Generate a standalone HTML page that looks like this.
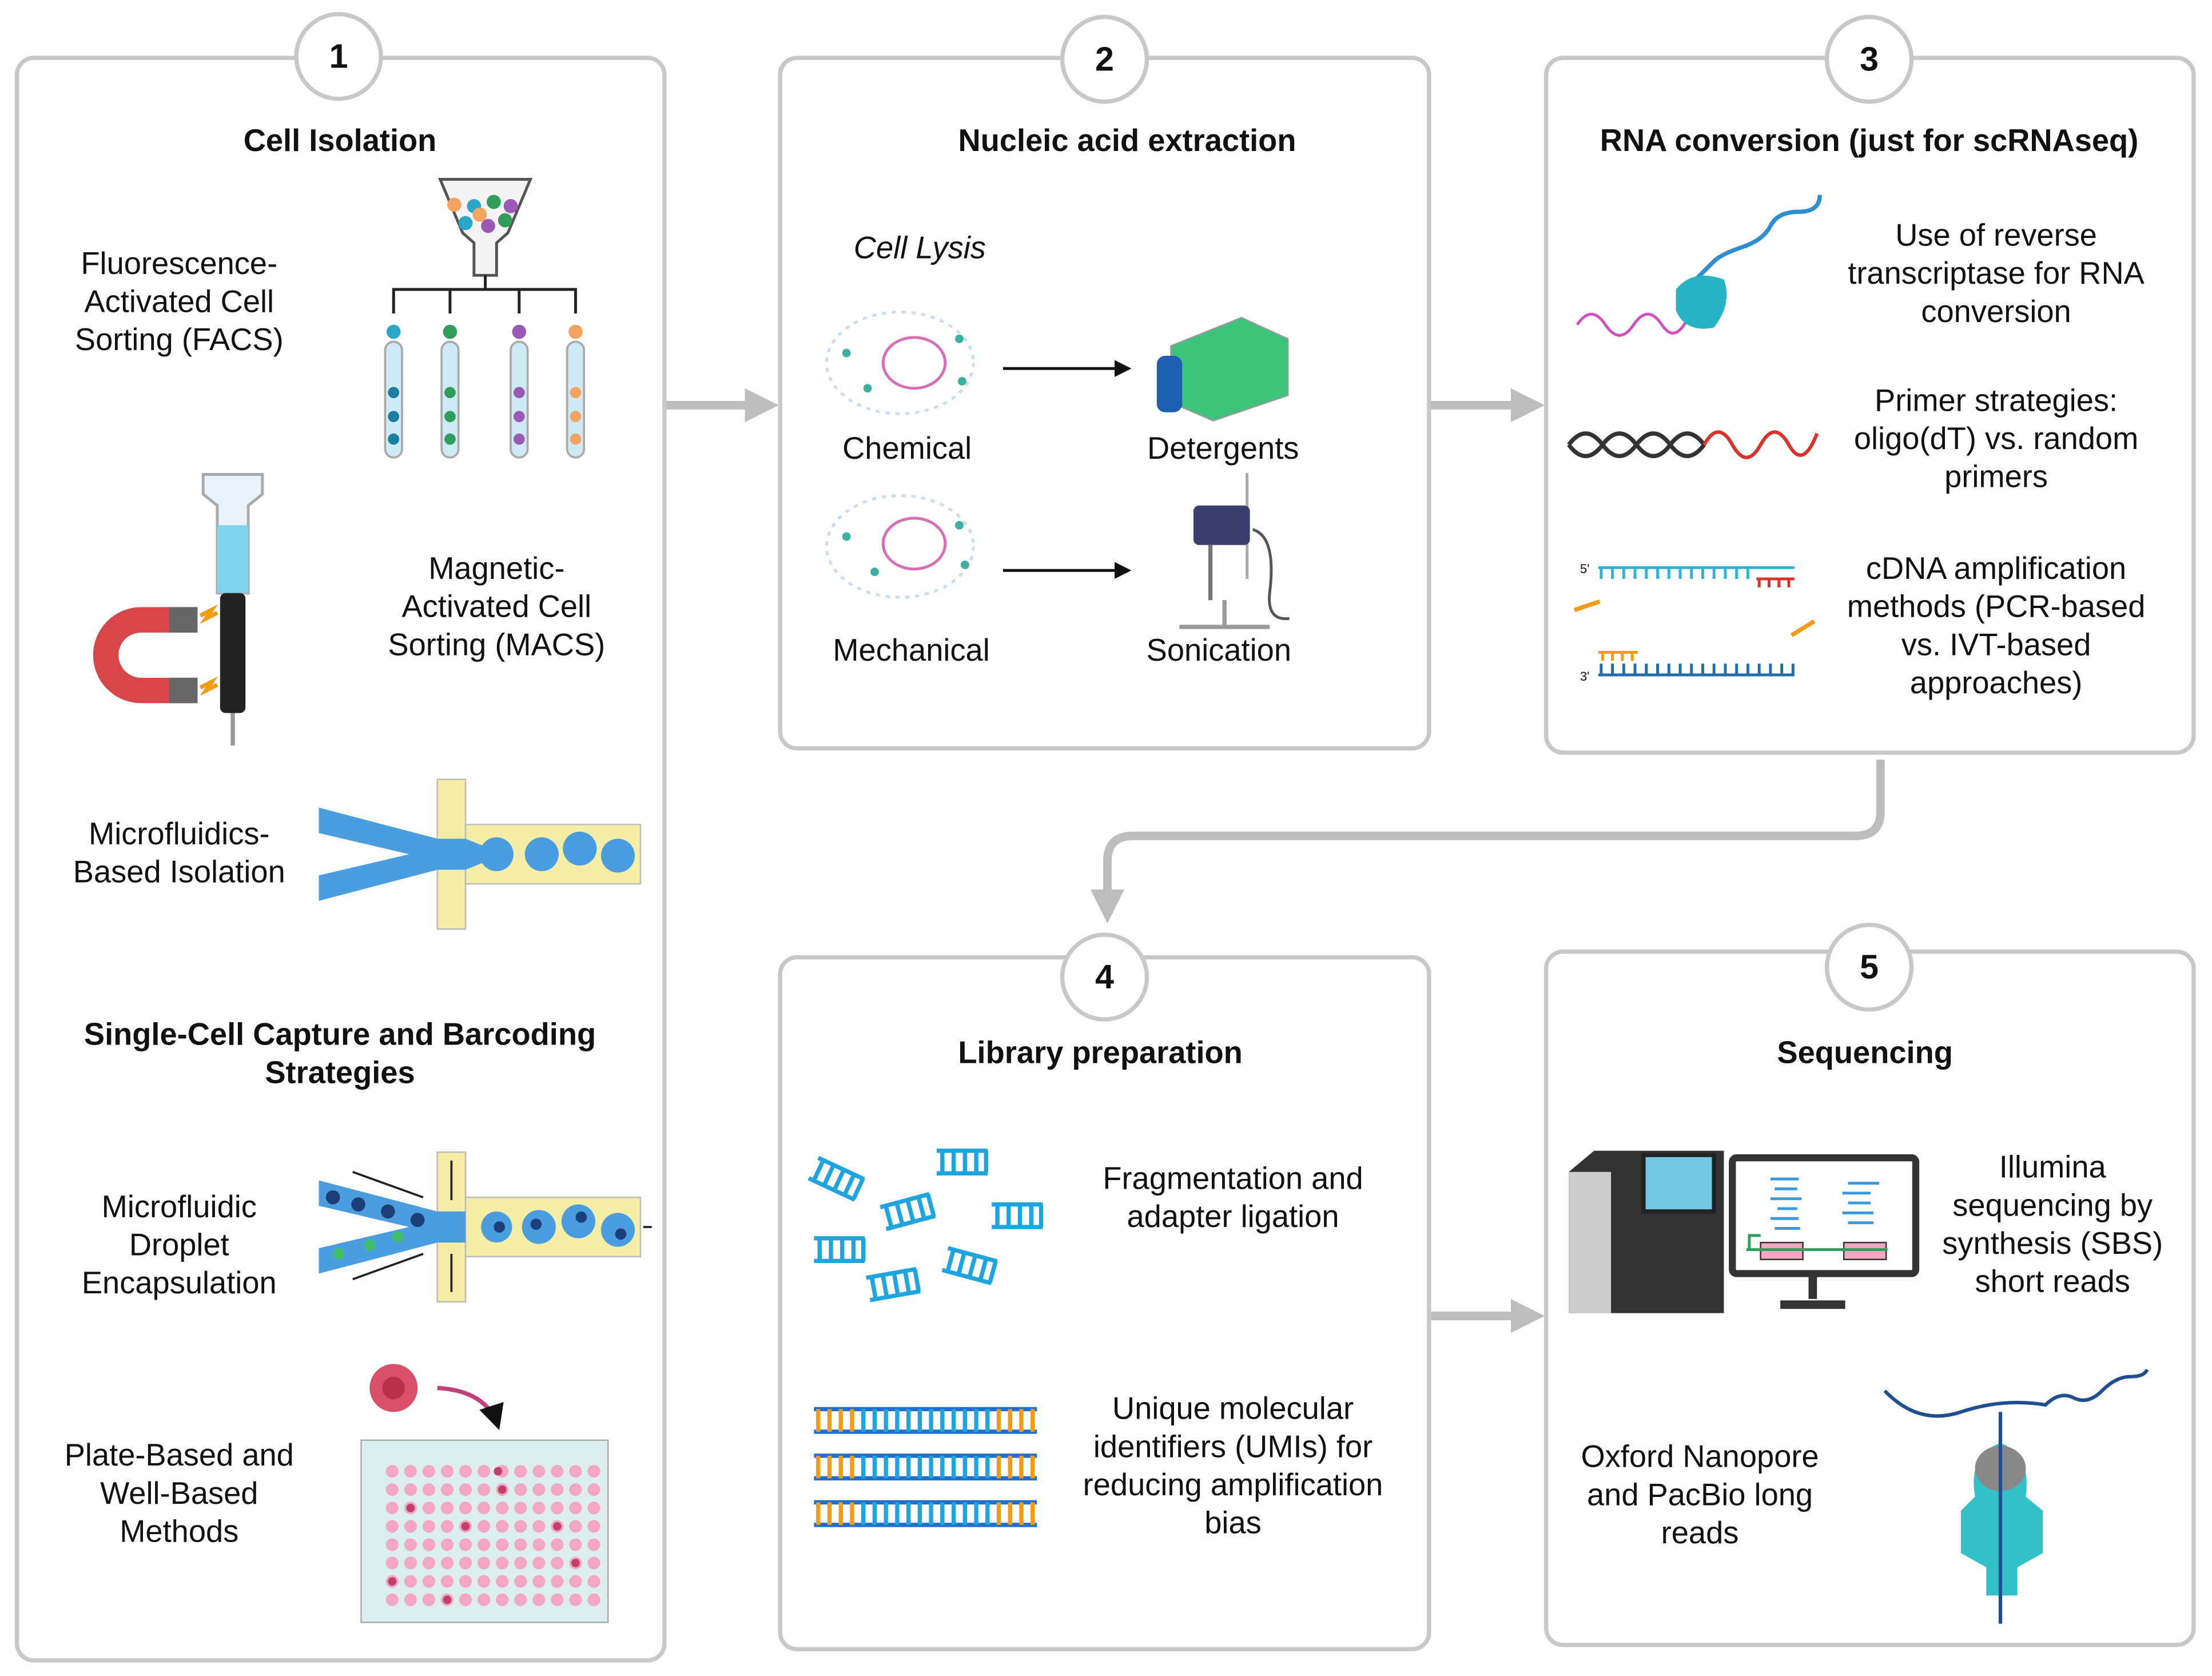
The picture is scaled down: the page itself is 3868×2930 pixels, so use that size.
<!DOCTYPE html>
<html><head><meta charset="utf-8"><style>
html,body{margin:0;padding:0;background:#fff;}
svg{display:block;}
text{font-family:"Liberation Sans",sans-serif;fill:#111;}
.t{font-size:22px;text-anchor:middle;}
.h{font-size:22px;font-weight:bold;text-anchor:middle;}
.n{font-size:24px;font-weight:bold;text-anchor:middle;}
.p{fill:#fff;stroke:#c8c8c8;stroke-width:3;}
</style></head><body>
<svg width="3868" height="2930" viewBox="0 0 1568 1187" preserveAspectRatio="none" xmlns="http://www.w3.org/2000/svg">
<defs>
<marker id="ga" markerWidth="4" markerHeight="4" refX="2" refY="2" orient="auto"><path d="M0,0 L4,2 L0,4z" fill="#bdbdbd"/></marker>
<marker id="ka" markerWidth="6" markerHeight="6" refX="5" refY="3" orient="auto"><path d="M0,0 L6,3 L0,6z" fill="#111"/></marker>
<g stroke="#1ea5e0" stroke-width="3" fill="none" id="frag"><path d="M0,0 h36 M0,16 h36 M4,0 v16 M12,0 v16 M20,0 v16 M28,0 v16 M35,0 v16"/></g>
</defs>
<rect width="1568" height="1187" fill="#fff"/>
<g stroke="#bdbdbd" stroke-width="6" fill="none">
<line x1="472" y1="287" x2="540" y2="287" marker-end="url(#ga)"/>
<line x1="1014" y1="287" x2="1083" y2="287" marker-end="url(#ga)"/>
<line x1="1014" y1="932" x2="1083" y2="932" marker-end="url(#ga)"/>
<path d="M1333,538 V575 Q1333,592 1315,592 H803 Q785,592 785,610 V642" marker-end="url(#ga)"/>
</g>
<rect class="p" x="12" y="41" width="459" height="1135" rx="12"/>
<rect class="p" x="553" y="41" width="460" height="489" rx="12"/>
<rect class="p" x="1096" y="41" width="459" height="492" rx="12"/>
<rect class="p" x="553" y="678" width="460" height="490" rx="12"/>
<rect class="p" x="1096" y="674" width="459" height="491" rx="12"/>
<g class="p"><circle cx="240" cy="40" r="30"/><circle cx="783" cy="42" r="30"/><circle cx="1325" cy="42" r="30"/><circle cx="783" cy="692" r="30"/><circle cx="1325" cy="685" r="30"/></g>
<text class="n" x="240" y="48">1</text><text class="n" x="783" y="50">2</text><text class="n" x="1325" y="50">3</text><text class="n" x="783" y="700">4</text><text class="n" x="1325" y="693">5</text>
<text class="h" x="241" y="107">Cell Isolation</text>
<text class="h" x="799" y="107">Nucleic acid extraction</text>
<text class="h" x="1325" y="107">RNA conversion (just for scRNAseq)</text>
<text class="h" x="241" y="740">Single-Cell Capture and Barcoding</text>
<text class="h" x="241" y="767">Strategies</text>
<text class="h" x="780" y="753">Library preparation</text>
<text class="h" x="1322" y="753">Sequencing</text>
<text class="t" x="127" y="194">Fluorescence-</text><text class="t" x="127" y="221">Activated Cell</text><text class="t" x="127" y="248">Sorting (FACS)</text>
<text class="t" x="352" y="410">Magnetic-</text><text class="t" x="352" y="437">Activated Cell</text><text class="t" x="352" y="464">Sorting (MACS)</text>
<text class="t" x="127" y="598">Microfluidics-</text><text class="t" x="127" y="625">Based Isolation</text>
<text class="t" x="127" y="862">Microfluidic</text><text class="t" x="127" y="889">Droplet</text><text class="t" x="127" y="916">Encapsulation</text>
<text class="t" x="127" y="1038">Plate-Based and</text><text class="t" x="127" y="1065">Well-Based</text><text class="t" x="127" y="1092">Methods</text>
<path d="M312,127 L376,127 L360,165 L352,172 V195 H336 V172 L328,165z" fill="#f4f4f4" stroke="#555" stroke-width="2"/>
<g><circle cx="322" cy="145" r="5" fill="#f4a460"/><circle cx="336" cy="146" r="5" fill="#2aa7c9"/><circle cx="350" cy="143" r="5" fill="#2e9e5a"/><circle cx="362" cy="146" r="5" fill="#9b59b6"/><circle cx="330" cy="158" r="5" fill="#2aa7c9"/><circle cx="346" cy="160" r="5" fill="#9b59b6"/><circle cx="358" cy="156" r="5" fill="#2e9e5a"/><circle cx="340" cy="152" r="5" fill="#f4a460"/></g>
<path d="M279,222 V205 H408 V222 M319,205 V222 M368,205 V222 M344,195 V205" stroke="#222" stroke-width="2" fill="none"/>
<g stroke="#aaa" stroke-width="1.5" fill="#cfeaf7">
<rect x="273" y="242" width="12" height="82" rx="6"/><rect x="313" y="242" width="12" height="82" rx="6"/><rect x="362" y="242" width="12" height="82" rx="6"/><rect x="402" y="242" width="12" height="82" rx="6"/></g>
<g><circle cx="279" cy="235" r="5" fill="#2aa7c9"/><circle cx="319" cy="235" r="5" fill="#2e9e5a"/><circle cx="368" cy="235" r="5" fill="#9b59b6"/><circle cx="408" cy="235" r="5" fill="#f4a460"/>
<circle cx="279" cy="278" r="4" fill="#1b7fa3"/><circle cx="279" cy="295" r="4" fill="#1b7fa3"/><circle cx="279" cy="311" r="4" fill="#1b7fa3"/>
<circle cx="319" cy="278" r="4" fill="#2e9e5a"/><circle cx="319" cy="295" r="4" fill="#2e9e5a"/><circle cx="319" cy="311" r="4" fill="#2e9e5a"/>
<circle cx="368" cy="278" r="4" fill="#9b59b6"/><circle cx="368" cy="295" r="4" fill="#9b59b6"/><circle cx="368" cy="311" r="4" fill="#9b59b6"/>
<circle cx="408" cy="278" r="4" fill="#f4a460"/><circle cx="408" cy="295" r="4" fill="#f4a460"/><circle cx="408" cy="311" r="4" fill="#f4a460"/></g>
<path d="M144,336 H186 V350 L176,358 V420 H154 V358 L144,350z" fill="#e8f4fa" stroke="#aaa" stroke-width="2"/>
<rect x="154" y="372" width="22" height="48" fill="#7fd3ef"/>
<rect x="156" y="420" width="18" height="85" rx="4" fill="#222"/>
<line x1="165" y1="505" x2="165" y2="528" stroke="#999" stroke-width="3"/>
<path d="M140,430 H100 A34,34 0 0 0 100,498 H140 V480 H100 A16,16 0 0 1 100,448 H140z" fill="#d9464a"/>
<rect x="120" y="430" width="20" height="18" fill="#666"/><rect x="120" y="480" width="20" height="18" fill="#666"/>
<path d="M142,436 l8,-4 l-4,6 l8,-4 M142,487 l8,-4 l-4,6 l8,-4" stroke="#f39c12" stroke-width="3" fill="none"/>
<rect x="310" y="552" width="20" height="106" fill="#f6eda7" stroke="#bbb"/>
<rect x="330" y="584" width="124" height="42" fill="#f6eda7" stroke="#bbb"/>
<path d="M226,572 L310,594 H330 L345,600 V610 L330,616 H310 L226,638 V620 L290,605 L226,590z" fill="#4a9ee0"/>
<circle cx="352" cy="605" r="12" fill="#4a9ee0"/><circle cx="384" cy="605" r="12" fill="#4a9ee0"/><circle cx="411" cy="601" r="12" fill="#4a9ee0"/><circle cx="438" cy="606" r="12" fill="#4a9ee0"/>
<rect x="310" y="816" width="20" height="106" fill="#f6eda7" stroke="#bbb"/>
<rect x="330" y="848" width="124" height="42" fill="#f6eda7" stroke="#bbb"/>
<path d="M226,836 L310,858 H330 V880 H310 L226,902 V884 L290,869 L226,854z" fill="#4a9ee0"/>
<g fill="#1c3f7a"><circle cx="236" cy="848" r="5"/><circle cx="254" cy="853" r="5"/><circle cx="275" cy="858" r="5"/><circle cx="296" cy="864" r="5"/></g>
<g fill="#3fbf6a"><circle cx="240" cy="888" r="4"/><circle cx="262" cy="882" r="4"/><circle cx="282" cy="876" r="4"/></g>
<circle cx="352" cy="869" r="11" fill="#4a9ee0"/><circle cx="382" cy="869" r="12" fill="#4a9ee0"/><circle cx="410" cy="865" r="12" fill="#4a9ee0"/><circle cx="438" cy="871" r="12" fill="#4a9ee0"/>
<g fill="#1c3f7a"><circle cx="354" cy="869" r="4"/><circle cx="380" cy="867" r="4"/><circle cx="412" cy="862" r="4"/><circle cx="440" cy="874" r="4"/></g>
<path d="M250,830 L300,848 M250,906 L300,888 M320,822 V850 M320,915 V888 M456,869 H462" stroke="#222" stroke-width="1.5" fill="none"/>
<circle cx="279" cy="983" r="17" fill="#d9506b"/><circle cx="279" cy="983" r="8" fill="#b8304a"/>
<path d="M310,983 Q345,985 353,1010" stroke="#c2407a" stroke-width="3" fill="none" marker-end="url(#ka)"/>
<rect x="256" y="1020" width="175" height="129" fill="#dcefee" stroke="#aaa"/>
<g fill="#f4a7c3" id="rows">
<circle cx="278" cy="1042" r="4.5"/><circle cx="291" cy="1042" r="4.5"/><circle cx="304" cy="1042" r="4.5"/><circle cx="317" cy="1042" r="4.5"/><circle cx="330" cy="1042" r="4.5"/><circle cx="343" cy="1042" r="4.5"/><circle cx="356" cy="1042" r="4.5"/><circle cx="369" cy="1042" r="4.5"/><circle cx="382" cy="1042" r="4.5"/><circle cx="395" cy="1042" r="4.5"/><circle cx="408" cy="1042" r="4.5"/><circle cx="421" cy="1042" r="4.5"/></g>
<use href="#rows" y="13"/><use href="#rows" y="26"/><use href="#rows" y="39"/><use href="#rows" y="52"/><use href="#rows" y="65"/><use href="#rows" y="78"/><use href="#rows" y="91"/>
<g fill="#c2406a"><circle cx="353" cy="1042" r="3"/><circle cx="291" cy="1068" r="3"/><circle cx="330" cy="1081" r="3"/><circle cx="395" cy="1081" r="3"/><circle cx="278" cy="1120" r="3"/><circle cx="317" cy="1133" r="3"/><circle cx="408" cy="1107" r="3"/><circle cx="356" cy="1055" r="3"/></g>
<text class="t" x="652" y="183" font-style="italic">Cell Lysis</text>
<text class="t" x="643" y="325">Chemical</text><text class="t" x="867" y="325">Detergents</text>
<text class="t" x="646" y="468">Mechanical</text><text class="t" x="864" y="468">Sonication</text>
<g fill="none" stroke-width="2"><ellipse cx="638" cy="257" rx="52" ry="36" stroke="#cde" stroke-dasharray="3 4"/><ellipse cx="648" cy="257" rx="22" ry="18" stroke="#d86fb6"/><ellipse cx="638" cy="387" rx="52" ry="36" stroke="#cde" stroke-dasharray="3 4"/><ellipse cx="648" cy="385" rx="22" ry="18" stroke="#d86fb6"/></g>
<g fill="#3ab0a0"><circle cx="600" cy="250" r="3"/><circle cx="615" cy="275" r="3"/><circle cx="680" cy="240" r="3"/><circle cx="682" cy="270" r="3"/><circle cx="600" cy="380" r="3"/><circle cx="620" cy="405" r="3"/><circle cx="680" cy="372" r="3"/><circle cx="684" cy="400" r="3"/></g>
<line x1="711" y1="261" x2="800" y2="261" stroke="#111" stroke-width="2" marker-end="url(#ka)"/>
<line x1="711" y1="404" x2="800" y2="404" stroke="#111" stroke-width="2" marker-end="url(#ka)"/>
<path d="M830,245 L880,225 L913,240 V280 L860,298 L830,285z" fill="#3cc47a" stroke="#999"/>
<rect x="820" y="252" width="18" height="40" rx="6" fill="#1f5fb0"/>
<line x1="884" y1="335" x2="884" y2="410" stroke="#aaa" stroke-width="2"/>
<rect x="846" y="358" width="40" height="28" rx="4" fill="#3a3f6e"/>
<line x1="858" y1="386" x2="858" y2="425" stroke="#777" stroke-width="3"/>
<path d="M836,444 H900 M868,425 V444" stroke="#999" stroke-width="3"/>
<path d="M888,375 Q905,380 900,420 Q898,440 914,438" stroke="#555" stroke-width="2" fill="none"/>
<text class="t" x="1415" y="174">Use of reverse</text><text class="t" x="1415" y="201">transcriptase for RNA</text><text class="t" x="1415" y="228">conversion</text>
<text class="t" x="1415" y="291">Primer strategies:</text><text class="t" x="1415" y="318">oligo(dT) vs. random</text><text class="t" x="1415" y="345">primers</text>
<text class="t" x="1415" y="410">cDNA amplification</text><text class="t" x="1415" y="437">methods (PCR-based</text><text class="t" x="1415" y="464">vs. IVT-based</text><text class="t" x="1415" y="491">approaches)</text>
<path d="M1118,230 q10,-15 20,0 t20,0 t20,0 t20,-8 t20,-10" stroke="#d24fbf" stroke-width="2" fill="none"/>
<path d="M1200,200 q10,-10 15,-15 t20,-10 t20,-15 t20,-10 t15,-12" stroke="#2d8fd0" stroke-width="3" fill="none"/>
<path d="M1188,205 Q1200,190 1222,198 Q1228,215 1215,232 Q1195,236 1188,220z" fill="#27b3c4"/>
<path d="M1112,315 q12,-16 24,0 t24,0 t24,0 t24,0" stroke="#333" stroke-width="3" fill="none"/>
<path d="M1112,315 q12,16 24,0 t24,0 t24,0 t24,0" stroke="#333" stroke-width="3" fill="none"/>
<path d="M1208,315 q10,-18 20,0 t20,0 t20,0 t20,-8" stroke="#d9342b" stroke-width="2.5" fill="none"/>
<g stroke="#2bb5d8" stroke-width="2"><line x1="1133" y1="402" x2="1272" y2="402"/><path d="M1135,402 v8 M1143,402 v8 M1151,402 v8 M1159,402 v8 M1167,402 v8 M1175,402 v8 M1183,402 v8 M1191,402 v8 M1199,402 v8 M1207,402 v8 M1215,402 v8 M1223,402 v8 M1231,402 v8 M1239,402 v8"/></g>
<path d="M1245,410 h27 M1247,410 v6 M1254,410 v6 M1261,410 v6 M1268,410 v6" stroke="#d9342b" stroke-width="2"/>
<g stroke="#1f6fb0" stroke-width="2"><line x1="1133" y1="478" x2="1272" y2="478"/><path d="M1135,478 v-8 M1143,478 v-8 M1151,478 v-8 M1159,478 v-8 M1167,478 v-8 M1175,478 v-8 M1183,478 v-8 M1191,478 v-8 M1199,478 v-8 M1207,478 v-8 M1215,478 v-8 M1223,478 v-8 M1231,478 v-8 M1239,478 v-8 M1247,478 v-8 M1255,478 v-8 M1263,478 v-8 M1271,478 v-8"/></g>
<path d="M1133,462 h28 M1136,462 v6 M1143,462 v6 M1150,462 v6 M1157,462 v6" stroke="#f39c12" stroke-width="2"/>
<path d="M1116,432 l18,-6 M1270,450 l16,-10" stroke="#f39c12" stroke-width="3"/>
<text x="1120" y="406" font-size="9">5'</text><text x="1120" y="482" font-size="9">3'</text>
<text class="t" x="874" y="842">Fragmentation and</text><text class="t" x="874" y="869">adapter ligation</text>
<text class="t" x="874" y="1005">Unique molecular</text><text class="t" x="874" y="1032">identifiers (UMIs) for</text><text class="t" x="874" y="1059">reducing amplification</text><text class="t" x="874" y="1086">bias</text>
<use href="#frag" transform="translate(580,820) rotate(25)"/><use href="#frag" transform="translate(664,815)"/><use href="#frag" transform="translate(624,855) rotate(-15)"/><use href="#frag" transform="translate(703,853)"/><use href="#frag" transform="translate(577,877)"/><use href="#frag" transform="translate(672,884) rotate(15)"/><use href="#frag" transform="translate(614,905) rotate(-10)"/>
<g id="umi" stroke-width="3" fill="none"><path d="M577,998 h158 M577,1014 h158" stroke="#1e6fd0"/><path d="M580,998 v16 M588,998 v16 M596,998 v16 M604,998 v16 M708,998 v16 M716,998 v16 M724,998 v16 M732,998 v16" stroke="#f39c12"/><path d="M612,998 v16 M620,998 v16 M628,998 v16 M636,998 v16 M644,998 v16 M652,998 v16 M660,998 v16 M668,998 v16 M676,998 v16 M684,998 v16 M692,998 v16 M700,998 v16" stroke="#1ea5e0"/></g>
<use href="#umi" y="33"/><use href="#umi" y="66"/>
<text class="t" x="1455" y="834">Illumina</text><text class="t" x="1455" y="861">sequencing by</text><text class="t" x="1455" y="888">synthesis (SBS)</text><text class="t" x="1455" y="915">short reads</text>
<text class="t" x="1205" y="1039">Oxford Nanopore</text><text class="t" x="1205" y="1066">and PacBio long</text><text class="t" x="1205" y="1093">reads</text>
<path d="M1112,830 L1130,815 H1222 V930 H1112z" fill="#333"/>
<rect x="1112" y="830" width="30" height="100" fill="#ccc"/>
<rect x="1165" y="818" width="50" height="40" fill="#6fc7e0" stroke="#222" stroke-width="3"/>
<rect x="1228" y="820" width="130" height="82" rx="3" fill="#fff" stroke="#333" stroke-width="5"/>
<path d="M1285,902 v18 M1262,924 h46" stroke="#333" stroke-width="6"/>
<g stroke="#3a9be0" stroke-width="2"><path d="M1255,835 h20 M1258,842 h16 M1255,849 h22 M1260,856 h14 M1255,863 h20 M1258,870 h18 M1310,838 h22 M1306,845 h20 M1310,852 h16 M1306,859 h22 M1310,866 h18"/></g>
<rect x="1248" y="880" width="30" height="12" fill="#f4a7c3" stroke="#333"/><rect x="1307" y="880" width="30" height="12" fill="#f4a7c3" stroke="#333"/>
<path d="M1238,885 h100 M1240,885 v-10 h8" stroke="#2e9e5a" stroke-width="2" fill="none"/>
<path d="M1336,985 Q1360,1010 1390,1000 Q1420,990 1450,995 q10,-10 20,-5 t20,-5 t20,-10 t12,-5" stroke="#1f4f90" stroke-width="2.5" fill="none"/>
<path d="M1400,1060 Q1395,1030 1418,1022 Q1440,1030 1436,1060 L1448,1070 V1100 L1430,1110 V1130 H1408 V1110 L1390,1100 V1070z" fill="#33c0c8"/>
<ellipse cx="1418" cy="1040" rx="18" ry="16" fill="#888"/>
<path d="M1418,1000 V1150" stroke="#1f4f90" stroke-width="2.5"/>
</svg>
</body></html>
